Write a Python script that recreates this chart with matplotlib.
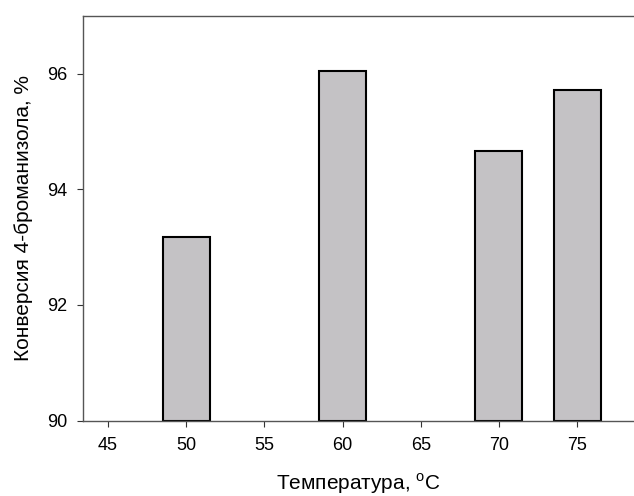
import matplotlib
matplotlib.use('Agg')
import matplotlib.pyplot as plt

plt.rcParams['font.family'] = ['Liberation Sans', 'DejaVu Sans']
plt.rcParams['mathtext.fontset'] = 'custom'
plt.rcParams['mathtext.rm'] = 'Liberation Sans'

# data
temperature = [50, 60, 70, 75]
conversion = [93.17, 96.05, 94.66, 95.72]
x_ticks = [45, 50, 55, 60, 65, 70, 75]
y_ticks = [90, 92, 94, 96]

fig = plt.figure(figsize=(6.34, 4.96), dpi=100)
ax = fig.add_axes([0.1304, 0.1522, 0.8696, 0.8161])

ax.bar(temperature, [c - 90 for c in conversion], bottom=90, width=3.0,
       color='#c4c2c5', edgecolor='black', linewidth=1.5, zorder=2)

ax.set_xlim(43.38, 78.64)
ax.set_ylim(90, 97)
ax.set_xticks(x_ticks)
ax.set_yticks(y_ticks)

for side in ['left', 'bottom', 'top']:
    ax.spines[side].set_color('#555555')
    ax.spines[side].set_linewidth(1.0)
ax.spines['right'].set_visible(False)

ax.tick_params(direction='out', length=4, width=0.8, color='#333333',
               labelsize=13)
ax.tick_params(axis='x', pad=8)
ax.tick_params(axis='y', pad=7)

ax.set_xlabel('Температура, $^{\\rm o}$C', fontsize=15, labelpad=12)
ax.set_ylabel('Конверсия 4-броманизола, %', fontsize=15, labelpad=10)

fig.savefig('out.png', dpi=100)
